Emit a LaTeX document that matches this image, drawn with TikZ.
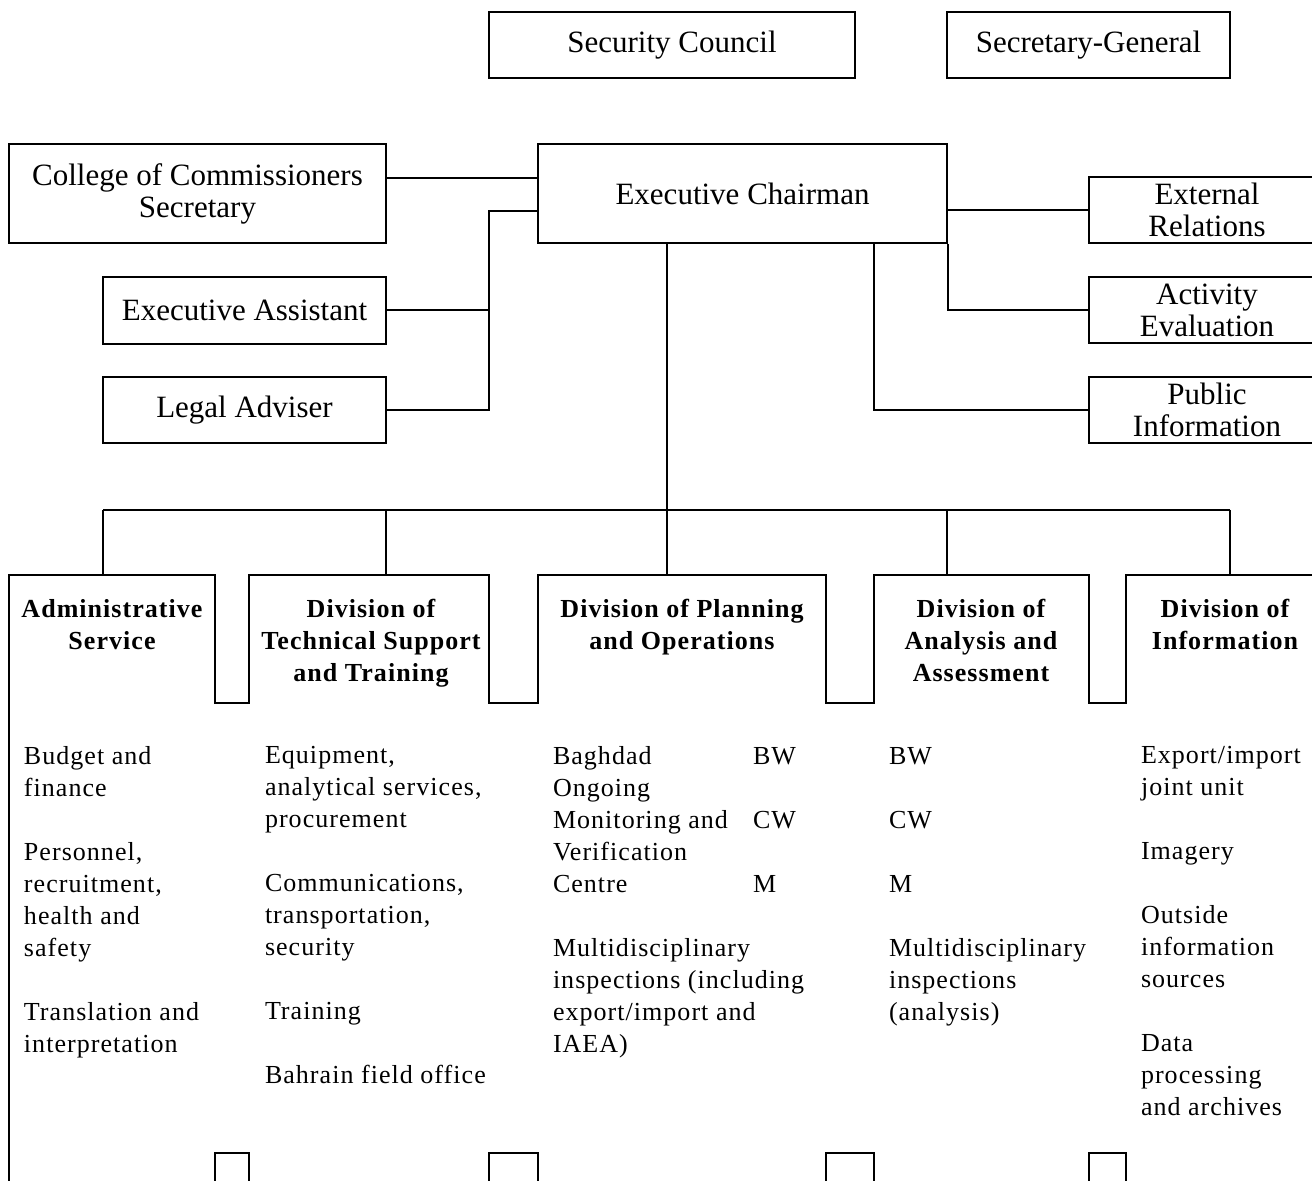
\documentclass[tikz,border=0pt]{standalone}
\usepackage{fontspec}
\setmainfont{Liberation Serif}
\newfontfamily\listfont[LetterSpace=4]{Liberation Serif}

\begin{document}
\begin{tikzpicture}[x=0.5pt, y=-0.5pt, line width=1pt,
  unit/.style={draw, rectangle, inner sep=0pt, align=center,
    font=\fontsize{15.5}{16}\selectfont},
  divhead/.style={inner sep=0pt, anchor=north, align=center,
    font=\listfont\bfseries\fontsize{13}{16}\selectfont},
  duties/.style={inner sep=0pt, anchor=north west, align=left,
    font=\listfont\fontsize{13}{16}\selectfont}]

  \useasboundingbox (0,0) rectangle (1312,1181);
  \clip (0,0) rectangle (1312,1181);

  \node[unit, minimum width=183pt, minimum height=33pt] (sc) at (672,45) {Security Council};
  \node[unit, minimum width=141.5pt, minimum height=33pt] (sg) at (1088.5,45) {Secretary-General};

  \node[unit, minimum width=188.5pt, minimum height=49.5pt] (ccs) at (197.5,193.5) {College of Commissioners\\Secretary};
  \node[unit, minimum width=204.5pt, minimum height=49.5pt] (ec) at (742.5,193.5) {Executive Chairman};
  \node[unit, minimum width=141.5pt, minimum height=33.5pt] (ea) at (244.5,310.5) {Executive Assistant};
  \node[unit, minimum width=141.5pt, minimum height=33pt] (la) at (244.5,410) {Legal Adviser};
  \node[unit, minimum width=118pt, minimum height=33pt] (er) at (1207,210) {External\\Relations};
  \node[unit, minimum width=118pt, minimum height=33pt] (ae) at (1207,310) {Activity\\Evaluation};
  \node[unit, minimum width=118pt, minimum height=33pt] (pi) at (1207,410) {Public\\Information};

  \draw (ccs.east |- 0,178) -- (ec.west |- 0,178);
  \draw (ec.west |- 0,211) -- (489,211) |- (la.east);
  \draw (ea.east) -- (ea.east -| 489,0);
  \draw (ec.east |- er.west) -- (er.west);
  \draw (ec.south east) |- (ae.west);
  \draw (ec.south -| 874,0) |- (pi.west);

  \coordinate (hub) at (667,510);
  \draw (ec.south -| hub) -- (hub);
  \draw (103,510) -- (1230,510);
  \foreach \x in {103,386,667,947,1230}
    \draw (\x,510) -- (\x,575);

  \draw (9,1190) -- (9,575) -- (215,575) -- (215,703) -- (249,703) -- (249,575)
    -- (489,575) -- (489,703) -- (538,703) -- (538,575) -- (826,575) -- (826,703)
    -- (874,703) -- (874,575) -- (1089,575) -- (1089,703) -- (1126,703) -- (1126,575)
    -- (1330,575);
  \foreach \a/\b in {215/249, 489/538, 826/874, 1089/1126}
    \draw (\a,1190) -- (\a,1153) -- (\b,1153) -- (\b,1190);

  \node[divhead] (adm) at (112,598) {Administrative\\Service};
  \node[divhead] (dts) at (371,598) {Division of\\Technical Support\\and Training};
  \node[divhead] (dpo) at (682,598) {Division of Planning\\and Operations};
  \node[divhead] (daa) at (981,598) {Division of\\Analysis and\\Assessment};
  \node[divhead] (dinf) at (1225,598) {Division of\\Information};

  \node[duties] (admlist) at (23,745) {Budget and\\finance\\[16pt]Personnel,\\recruitment,\\health and\\safety\\[16pt]Translation and\\interpretation};
  \node[duties] (dtslist) at (264,745) {Equipment,\\analytical services,\\procurement\\[16pt]Communications,\\transportation,\\security\\[16pt]Training\\[16pt]Bahrain field office};
  \node[duties] (dpolist) at (552,745) {Baghdad\\Ongoing\\Monitoring and\\Verification\\Centre\\[16pt]Multidisciplinary\\inspections (including\\export/import and\\IAEA)};
  \node[duties] (dpocode) at (752,746) {BW\\[16pt]CW\\[16pt]M};
  \node[duties] (daalist) at (888,746) {BW\\[16pt]CW\\[16pt]M\\[16pt]Multidisciplinary\\inspections\\(analysis)};
  \node[duties] (dinflist) at (1140,745) {Export/import\\joint unit\\[16pt]Imagery\\[16pt]Outside\\information\\sources\\[16pt]Data\\processing\\and archives};

\end{tikzpicture}
\end{document}
